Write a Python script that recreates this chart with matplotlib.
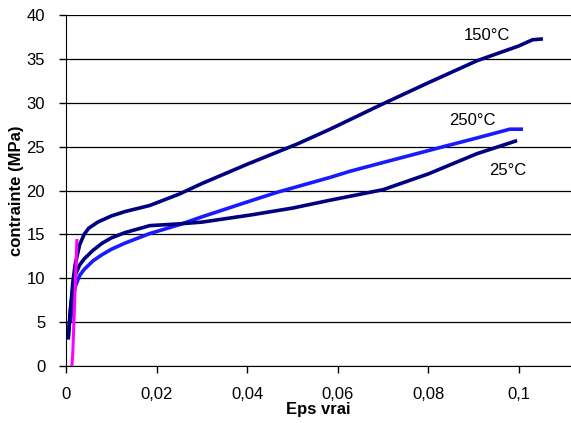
import matplotlib.pyplot as plt
import numpy as np

plt.rcParams['font.family'] = ['Liberation Sans', 'DejaVu Sans']

# courbes contrainte / deformation vraie
eps_150 = [0.0005, 0.001, 0.0015, 0.002, 0.003, 0.004, 0.005, 0.007, 0.01, 0.013, 0.0185,
           0.025, 0.03, 0.04, 0.051, 0.0583, 0.07, 0.08, 0.0907, 0.1, 0.103, 0.1053]
sig_150 = [3.0, 6.5, 9.5, 11.5, 13.8, 15.0, 15.7, 16.4, 17.1, 17.6, 18.3,
           19.6, 20.8, 23.0, 25.3, 27.0, 29.9, 32.3, 34.8, 36.5, 37.2, 37.3]

eps_250 = [0.001, 0.0015, 0.002, 0.003, 0.004, 0.006, 0.008, 0.01, 0.013, 0.0185,
           0.025, 0.03, 0.04, 0.0466, 0.0583, 0.0627, 0.07, 0.084, 0.09, 0.098, 0.1009]
sig_250 = [5.0, 7.5, 9.0, 10.3, 11.0, 12.0, 12.7, 13.3, 14.0, 15.1,
           16.1, 17.0, 18.7, 19.8, 21.5, 22.2, 23.2, 25.1, 25.9, 27.0, 27.0]

eps_25 = [0.0005, 0.001, 0.0015, 0.002, 0.003, 0.004, 0.006, 0.008, 0.01, 0.013, 0.0185,
          0.025, 0.03, 0.0406, 0.05, 0.0583, 0.07, 0.08, 0.0907, 0.0996]
sig_25 = [3.5, 6.5, 8.8, 10.3, 11.5, 12.2, 13.2, 14.0, 14.6, 15.2, 16.0,
          16.2, 16.4, 17.2, 18.0, 18.9, 20.1, 21.9, 24.2, 25.7]

eps_elast = [0.0013, 0.0015, 0.0024]
sig_elast = [0.0, 1.5, 14.3]

labels = ['150°C', '250°C', '25°C']
label_pos = [(0.093, 37.7), (0.0898, 28.0), (0.0976, 22.3)]

navy = '#000080'
blue = '#1a1aff'

fig = plt.figure(figsize=(5.71, 4.23), dpi=100)
ax = fig.add_axes([0.1156, 0.135, 0.8844, 0.829])

ax.plot(eps_150, sig_150, c=navy, lw=2.6, solid_capstyle='butt')
ax.plot(eps_250, sig_250, c=blue, lw=2.6, solid_capstyle='butt')
ax.plot(eps_25, sig_25, c=navy, lw=2.6, solid_capstyle='butt')
ax.plot(eps_elast, sig_elast, c='#ff00ff', lw=2.2)

for t, (x, y) in zip(labels, label_pos):
    ax.text(x, y, t, ha='center', va='center', fontsize=12)

ax.set_xlim(0, 0.1115)
ax.set_ylim(0, 40)
ax.set_xticks([0, 0.02, 0.04, 0.06, 0.08, 0.1])
ax.set_xticklabels(['0', '0,02', '0,04', '0,06', '0,08', '0,1'])
ax.set_yticks(range(0, 41, 5))
ax.tick_params(labelsize=12, direction='out', length=5, width=1, pad=10)
ax.yaxis.grid(True, color='black', lw=0.9)
ax.set_axisbelow(True)

ax.spines["top"].set_visible(False)
ax.spines["right"].set_visible(False)
ax.spines["left"].set_color('black')
ax.spines["bottom"].set_color('black')

ax.set_xlabel('Eps vrai', fontsize=12, fontweight='bold', labelpad=0)
ax.set_ylabel('contrainte (MPa)', fontsize=12, fontweight='bold', labelpad=2)

plt.savefig('out.png', facecolor='w')
